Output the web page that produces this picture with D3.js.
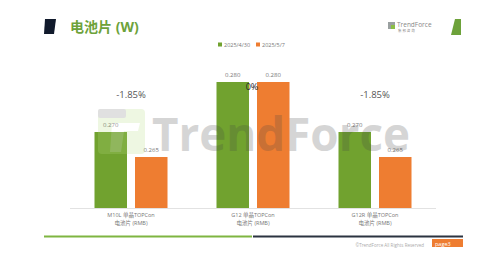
<!DOCTYPE html>
<html>
<head>
<meta charset="utf-8">
<script src="https://cdn.jsdelivr.net/npm/d3@7"></script>
<style>
  body { margin: 0; background: #fff; }
  svg { font-family: "Open Sans", "Noto Sans CJK SC", sans-serif; }
</style>
</head>
<body>
<svg id="chart" width="496" height="264"></svg>
<script>
// chart data
var categories = ['M10L 单晶TOPCon|电池片 (RMB)', 'G12 单晶TOPCon|电池片 (RMB)', 'G12R 单晶TOPCon|电池片 (RMB)'];
var seriesNames = ['2025/4/30', '2025/5/7'];
var prevPrices = [0.270, 0.280, 0.270];
var currPrices = [0.265, 0.280, 0.265];
var changes = ['-1.85%', '0%', '-1.85%'];

var colors = ['#71a22f', '#ee7d31'];

var svg = d3.select('#chart');
var width = +svg.attr('width');
var height = +svg.attr('height');

// title block
svg.append('path')
  .attr('d', 'M45,19 L56,19 L54,34 L44,34 Z')
  .attr('fill', '#111a2c');
svg.append('text')
  .attr('x', 70).attr('y', 32)
  .attr('font-size', 14).attr('font-weight', 'bold')
  .attr('fill', '#6da23a')
  .text('电池片 (W)');

// top right logo
svg.append('rect').attr('x', 388).attr('y', 22).attr('width', 7).attr('height', 7).attr('fill', '#9aa0a0');
svg.append('rect').attr('x', 391).attr('y', 25).attr('width', 4).attr('height', 4).attr('fill', '#8cbf45');
svg.append('text').attr('x', 397).attr('y', 26.5).attr('font-size', 6.5).attr('fill', '#888').text('TrendForce');
svg.append('text').attr('x', 398).attr('y', 32).attr('font-size', 3.5).attr('fill', '#888').text('集 邦 咨 询');
svg.append('path')
  .attr('d', 'M455,19 L461,19 L461,35 L451,35 Z')
  .attr('fill', '#6da23a');

// legend
var legend = svg.append('g').attr('font-size', 5.5).attr('fill', '#777');
var legX = [218, 256];
seriesNames.forEach(function(name, i) {
  legend.append('rect')
    .attr('x', legX[i]).attr('y', 42.5)
    .attr('width', 4).attr('height', 4)
    .attr('fill', colors[i]);
  legend.append('text')
    .attr('x', legX[i] + 6).attr('y', 46.5)
    .text(name);
});

// scales
var x = d3.scaleBand()
  .domain(categories)
  .range([70, 436]);

var y = d3.scaleLinear()
  .domain([0.2548, 0.280])
  .range([208, 82]);

var barW = 32.5;
var gap = 8;

var g = svg.append('g');

// baseline
g.append('line')
  .attr('x1', 70).attr('x2', 436)
  .attr('y1', 208.5).attr('y2', 208.5)
  .attr('stroke', '#e2e2e2').attr('stroke-width', 1);

var bars = [prevPrices, currPrices];
bars.forEach(function(vals, s) {
  g.selectAll('.bar' + s)
    .data(vals)
    .enter()
    .append('rect')
    .attr('class', 'bar' + s)
    .attr('x', function(d, i) {
      var c = x(categories[i]) + x.bandwidth() / 2;
      return s === 0 ? c - gap / 2 - barW : c + gap / 2;
    })
    .attr('y', function(d) { return y(d); })
    .attr('width', barW)
    .attr('height', function(d) { return 208 - y(d); })
    .attr('fill', colors[s]);

  g.selectAll('.lab' + s)
    .data(vals)
    .enter()
    .append('text')
    .attr('x', function(d, i) {
      var c = x(categories[i]) + x.bandwidth() / 2;
      return s === 0 ? c - gap / 2 - barW / 2 : c + gap / 2 + barW / 2;
    })
    .attr('y', function(d) { return y(d) - 5; })
    .attr('text-anchor', 'middle')
    .attr('font-size', 6)
    .attr('fill', '#777')
    .text(function(d) { return d.toFixed(3); });
});

// change labels
g.selectAll('.chg')
  .data(changes)
  .enter()
  .append('text')
  .attr('x', function(d, i) { return x(categories[i]) + x.bandwidth() / 2 - (d === '0%' ? 1 : 0); })
  .attr('y', function(d) { return d === '0%' ? 90 : 98; })
  .attr('text-anchor', 'middle')
  .attr('font-size', function(d) { return d === '0%' ? 9 : 9.5; })
  .attr('fill', function(d) { return d === '0%' ? '#222' : '#555'; })
  .text(function(d) { return d; });

// category labels
categories.forEach(function(c) {
  var parts = c.split('|');
  var cx = x(c) + x.bandwidth() / 2;
  parts.forEach(function(p, j) {
    g.append('text')
      .attr('x', cx).attr('y', 217 + j * 8)
      .attr('text-anchor', 'middle')
      .attr('font-size', 5.5)
      .attr('fill', '#777')
      .text(p);
  });
});

// watermark over the bars
var wm = svg.append('g').attr('opacity', 0.22);
wm.append('rect')
  .attr('x', 98).attr('y', 109).attr('width', 47).attr('height', 45).attr('rx', 4)
  .attr('fill', '#b5dc80');
wm.append('rect')
  .attr('x', 98).attr('y', 109).attr('width', 28).attr('height', 9).attr('rx', 2)
  .attr('fill', '#777');
wm.append('path')
  .attr('d', 'M112,123 L140,123 L138,131 L124,131 L121,152 L110,152 Z')
  .attr('fill', '#ffffff');
wm.append('text')
  .attr('x', 152).attr('y', 151)
  .attr('font-size', 46).attr('font-weight', 'bold')
  .attr('textLength', 258).attr('lengthAdjust', 'spacingAndGlyphs')
  .attr('fill', '#444')
  .text('TrendForce');

// footer
svg.append('line')
  .attr('x1', 44).attr('x2', 252).attr('y1', 236.5).attr('y2', 236.5)
  .attr('stroke', '#7fb541').attr('stroke-width', 2);
svg.append('line')
  .attr('x1', 253).attr('x2', 463).attr('y1', 236.5).attr('y2', 236.5)
  .attr('stroke', '#2b3340').attr('stroke-width', 2);
svg.append('text')
  .attr('x', 424).attr('y', 246.5)
  .attr('text-anchor', 'end')
  .attr('font-size', 4.5).attr('fill', '#aaa')
  .text('©TrendForce All Rights Reserved');
svg.append('rect')
  .attr('x', 432).attr('y', 239).attr('width', 31).attr('height', 8)
  .attr('fill', '#ee7d31');
svg.append('text')
  .attr('x', 435).attr('y', 245.5)
  .attr('font-size', 5.5).attr('fill', '#fff')
  .text('page3');
</script>
</body>
</html>
